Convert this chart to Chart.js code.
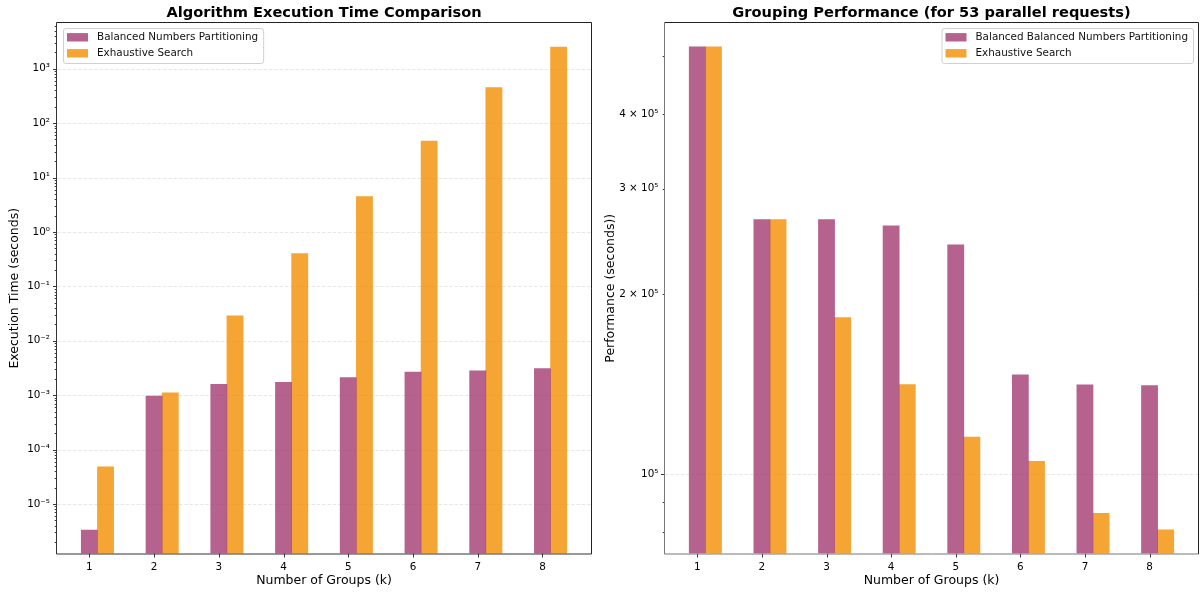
<!DOCTYPE html>
<html><head><meta charset="utf-8">
<script src="https://cdn.jsdelivr.net/npm/chart.js@4.4.0/dist/chart.umd.min.js"></script>
<style>
html,body{margin:0;padding:0;background:#fff;overflow:hidden;width:1200px;height:593px}
#cl{position:absolute;left:0;top:0}
#cr{position:absolute;left:600px;top:0}
</style>
</head><body>
<canvas id="cl" width="600" height="593"></canvas>
<canvas id="cr" width="600" height="593"></canvas>
<script>
// ---------- data ----------
const categories = [1, 2, 3, 4, 5, 6, 7, 8];
const execSeriesNames = ['Balanced Numbers Partitioning', 'Exhaustive Search'];
const perfSeriesNames = ['Balanced Balanced Numbers Partitioning', 'Exhaustive Search'];
const execBalanced   = [3.33e-6, 9.6e-4, 1.59e-3, 1.73e-3, 2.11e-3, 2.65e-3, 2.80e-3, 3.08e-3];
const execExhaustive = [4.81e-5, 1.10e-3, 0.0288, 0.40, 4.47, 46.7, 451, 2506];
const perfBalanced   = [5.18e5, 2.666e5, 2.666e5, 2.601e5, 2.417e5, 1.466e5, 1.41e5, 1.406e5];
const perfExhaustive = [5.18e5, 2.666e5, 1.827e5, 1.412e5, 1.154e5, 1.051e5, 8.60e4, 8.07e4];
const execTickValues = [1e-5, 1e-4, 1e-3, 1e-2, 1e-1, 1e0, 1e1, 1e2, 1e3];
const execTickLabels = ['10⁻⁵', '10⁻⁴', '10⁻³', '10⁻²', '10⁻¹', '10⁰', '10¹', '10²', '10³'];
const perfTickValues = [1e5, 2e5, 3e5, 4e5];
const perfTickLabels = ['10⁵', '2 × 10⁵', '3 × 10⁵', '4 × 10⁵'];
const xTickLabels = ['1', '2', '3', '4', '5', '6', '7', '8'];

// ---------- styles ----------
const FONT = 'DejaVu Sans';
const COL_BAL = 'rgba(162,59,114,0.8)';
const COL_EXH = 'rgba(241,143,1,0.8)';
const BAR_W = 0.25;

const near = (a, b) => Math.abs(Math.log10(a) - Math.log10(b)) < 1e-6;
function logTicks(min, max) {
  const out = [];
  for (let n = Math.floor(Math.log10(min)); n <= Math.ceil(Math.log10(max)); n++) {
    for (let d = 1; d <= 9; d++) {
      const v = d * Math.pow(10, n);
      if (v >= min && v <= max) out.push(v);
    }
  }
  return out;
}
const isPow10 = v => Math.abs(Math.log10(v) - Math.round(Math.log10(v))) < 1e-9;

function mkSet(label, values, offset, color) {
  return {
    label,
    data: categories.map((c, i) => ({ x: c + offset, y: values[i] })),
    backgroundColor: color,
    borderWidth: 0,
    grouped: false,
    categoryPercentage: 1,
    barPercentage: 1
  };
}

const deco = {
  id: 'deco',
  beforeDatasetsDraw(chart, args, o) {
    const { ctx, chartArea: a, scales: { y } } = chart;
    ctx.save();
    ctx.strokeStyle = 'rgba(176,176,176,0.35)';
    ctx.lineWidth = 0.9;
    ctx.setLineDash([3.5, 1.8]);
    o.gridValues.forEach(v => {
      const py = Math.round(y.getPixelForValue(v)) + 0.5;
      ctx.beginPath(); ctx.moveTo(a.left, py); ctx.lineTo(a.right, py); ctx.stroke();
    });
    ctx.restore();
  },
  afterDraw(chart, args, o) {
    const { ctx, chartArea: a, scales: { x, y } } = chart;
    ctx.save();
    // tick marks
    ctx.lineWidth = 0.9;
    ctx.strokeStyle = '#222';
    y.ticks.forEach(t => {
      const py = Math.round(y.getPixelForValue(t.value)) + 0.5;
      const len = isPow10(t.value) ? 4 : 2.3;
      ctx.beginPath(); ctx.moveTo(a.left - len, py); ctx.lineTo(a.left, py); ctx.stroke();
    });
    x.ticks.forEach(t => {
      const px = Math.round(x.getPixelForValue(t.value)) + 0.5;
      ctx.beginPath(); ctx.moveTo(px, a.bottom); ctx.lineTo(px, a.bottom + 4); ctx.stroke();
    });
    // spines
    ctx.lineWidth = 1;
    const L = a.left - 0.5, R = a.right + 0.5, T = a.top - 0.5, B = a.bottom + 0.5;
    ctx.strokeStyle = o.spineDark;
    ctx.beginPath(); ctx.moveTo(L, T); ctx.lineTo(R, T); ctx.lineTo(R, B); ctx.stroke();
    ctx.strokeStyle = o.spineAxis;
    ctx.beginPath(); ctx.moveTo(L, T); ctx.lineTo(L, B); ctx.lineTo(R, B); ctx.stroke();
    // legend
    ctx.font = '10.4px "' + FONT + '"';
    const ds = chart.data.datasets;
    const tw = Math.max(...ds.map(d => ctx.measureText(d.label).width));
    const fw = 34 + tw + 5, fh = 35;
    const fx = o.legendRight ? a.right - 5 - fw : a.left + 6;
    const fy = a.top + 5;
    ctx.beginPath();
    ctx.roundRect(fx + 0.5, fy + 0.5, fw, fh, 2.5);
    ctx.fillStyle = 'rgba(255,255,255,0.8)';
    ctx.fill();
    ctx.strokeStyle = '#d0d0d0';
    ctx.lineWidth = 1;
    ctx.stroke();
    ds.forEach((d, i) => {
      const base = fy + 12 + i * 16;
      ctx.fillStyle = d.backgroundColor;
      ctx.fillRect(fx + 4, base - 6.9, 21, 8.4);
      ctx.fillStyle = '#111';
      ctx.textAlign = 'left';
      ctx.textBaseline = 'alphabetic';
      ctx.fillText(d.label, fx + 34, base);
    });
    // title
    ctx.font = 'bold 14.6px "' + FONT + '"';
    ctx.fillStyle = '#000';
    ctx.textAlign = 'center';
    ctx.textBaseline = 'alphabetic';
    ctx.fillText(o.title, (a.left + a.right) / 2, 16.5);
    ctx.restore();
  }
};

function makeChart(id, cfg) {
  return new Chart(document.getElementById(id), {
    type: 'bar',
    data: {
      datasets: [
        mkSet(cfg.names[0], cfg.bal, 0, COL_BAL),
        mkSet(cfg.names[1], cfg.exh, BAR_W, COL_EXH)
      ]
    },
    options: {
      responsive: false,
      animation: false,
      events: [],
      devicePixelRatio: 1,
      layout: { padding: { left: 0, right: cfg.padRight, top: 23, bottom: 0 } },
      plugins: {
        legend: { display: false },
        tooltip: { enabled: false },
        deco: {
          gridValues: cfg.gridValues,
          title: cfg.title,
          legendRight: cfg.legendRight,
          spineDark: cfg.spineDark,
          spineAxis: cfg.spineAxis
        }
      },
      scales: {
        x: {
          type: 'linear',
          offset: false,
          min: 0.5, max: 8.75,
          afterBuildTicks: s => { s.ticks = categories.map(v => ({ value: v })); },
          afterFit: s => { s.height = 39.5; },
          ticks: {
            autoSkip: false, maxRotation: 0, padding: 3.5,
            callback: (v) => xTickLabels[categories.indexOf(v)] ?? '',
            font: { family: FONT, size: 10.4 }, color: '#000'
          },
          grid: { display: false, offset: false, drawTicks: true, tickLength: 4 },
          border: { display: false },
          title: {
            display: true, text: 'Number of Groups (k)',
            font: { family: FONT, size: 12.5 }, color: '#000',
            padding: { top: 0, bottom: 5 }
          }
        },
        y: {
          type: 'logarithmic',
          min: cfg.yMin, max: cfg.yMax,
          afterBuildTicks: s => { s.ticks = logTicks(cfg.yMin, cfg.yMax).map(v => ({ value: v })); },
          afterFit: s => { s.width = cfg.yWidth; },
          ticks: {
            autoSkip: false, padding: cfg.yPad,
            callback: (v) => {
              const i = cfg.tickValues.findIndex(t => near(t, v));
              return i >= 0 ? cfg.tickLabels[i] : '';
            },
            font: { family: FONT, size: 10.4 }, color: '#000'
          },
          grid: { display: false, drawTicks: true, tickLength: 4 },
          border: { display: false },
          title: {
            display: true, text: cfg.yTitle,
            font: { family: FONT, size: 12.5 }, color: '#000',
            padding: { top: cfg.yTitlePad, bottom: 0 }
          }
        }
      }
    },
    plugins: [deco]
  });
}

makeChart('cl', {
  names: execSeriesNames, bal: execBalanced, exh: execExhaustive,
  title: 'Algorithm Execution Time Comparison',
  yTitle: 'Execution Time (seconds)',
  yMin: 1.23e-6, yMax: 6920,
  tickValues: execTickValues, tickLabels: execTickLabels,
  gridValues: execTickValues,
  padRight: 9, yWidth: 57, yPad: 3, yTitlePad: 7.5,
  legendRight: false, spineDark: '#222', spineAxis: '#333'
});

makeChart('cr', {
  names: perfSeriesNames, bal: perfBalanced, exh: perfExhaustive,
  title: 'Grouping Performance (for 53 parallel requests)',
  yTitle: 'Performance (seconds))',
  yMin: 73700, yMax: 567900,
  tickValues: perfTickValues, tickLabels: perfTickLabels,
  gridValues: [1e5],
  padRight: 2, yWidth: 65, yPad: 2.5, yTitlePad: 3,
  legendRight: true, spineDark: '#222', spineAxis: '#777'
});
</script>
</body></html>
